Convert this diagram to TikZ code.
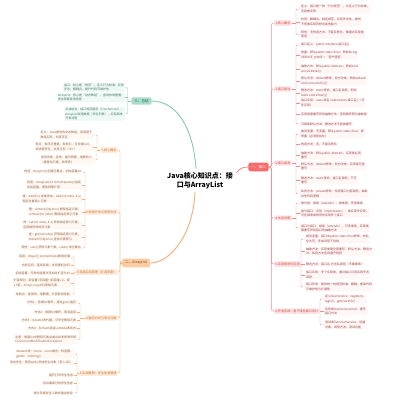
\documentclass[tikz,border=0pt]{standalone}
\usepackage{fontspec}
\setmainfont{Noto Sans CJK SC}
\definecolor{rootR}{HTML}{F36B6B}
\definecolor{rl}{HTML}{F08C8C}
\definecolor{rgf}{HTML}{FDE3E3}
\definecolor{rgt}{HTML}{D04545}
\definecolor{rct}{HTML}{9E4646}
\definecolor{rcf}{HTML}{FFF6F6}
\definecolor{rootL}{HTML}{FBCBA2}
\definecolor{rootLt}{HTML}{8B4513}
\definecolor{ll}{HTML}{F5AE74}
\definecolor{lgf}{HTML}{FDEBDC}
\definecolor{lgt}{HTML}{C8702C}
\definecolor{lct}{HTML}{94664A}
\definecolor{lcf}{HTML}{FFF8F2}
\definecolor{rootT}{HTML}{A9DCCA}
\definecolor{rootTt}{HTML}{2E6B57}
\definecolor{tl}{HTML}{86CBB4}
\definecolor{tcf}{HTML}{EEF8F4}
\definecolor{tct}{HTML}{4A7A6A}
\newcommand\myfc{\fontsize{3}{4.3}\selectfont}
\newcommand\myfg{\fontsize{3.1}{4}\selectfont}
\newcommand\myfr{\fontsize{3.6}{4.5}\selectfont}
\newcommand\myfm{\fontsize{7}{9.2}\selectfont\bfseries}
\tikzset{
  rc/.style={anchor=west, align=left, font=\myfc, text=rct, fill=rcf, inner sep=0.8pt, rounded corners=0.6pt},
  lc/.style={anchor=east, align=left, font=\myfc, text=lct, fill=lcf, inner sep=0.8pt, rounded corners=0.6pt},
  tc/.style={anchor=east, align=left, font=\myfc, text=tct, fill=tcf, inner sep=0.8pt, rounded corners=0.6pt},
  rg/.style={anchor=west, font=\myfg, text=rgt, fill=rgf, inner xsep=1.2pt, inner ysep=1.3pt, rounded corners=1pt},
  lg/.style={anchor=east, font=\myfg, text=lgt, fill=lgf, inner xsep=1.2pt, inner ysep=1.3pt, rounded corners=1pt},
  rootbox/.style={font=\myfr, inner xsep=3pt, inner ysep=2.6pt, rounded corners=1.5pt},
  rline/.style={draw=rl, line width=0.45pt},
  lline/.style={draw=ll, line width=0.45pt},
  tline/.style={draw=tl, line width=0.45pt},
}
\begin{document}
\begin{tikzpicture}[x=1pt,y=-1pt]
\useasboundingbox[fill=white] (0,0) rectangle (400,400);

% center
\node[font=\myfm, align=center] (C) at (200,180.5) {Java核心知识点：接\\口与ArrayList};

% roots
\node[rootbox, fill=rootR, text=white] (R) at (258.5,167) {一、接口};
\node[rootbox, fill=rootL, text=rootLt, anchor=west] (L) at (122,263) {二、ArrayList};
\node[rootbox, fill=rootT, text=rootTt, inner ysep=2pt] (T) at (141.5,101) {三、总结};

\draw[draw=rl, line width=0.9pt] ([yshift=8pt]C.east) .. controls (240,169) and (242,167) .. (R.west);
\draw[draw=ll, line width=0.9pt] ([xshift=-5pt]C.south) .. controls (193,235) and (170,263) .. (L.east);
\draw[draw=tl, line width=0.9pt] ([xshift=-4pt]C.north) .. controls (193,125) and (175,101) .. (T.east);

% ===== right groups =====
\node[rg] (r1) at (274,23) {1.核心概念};
\node[rg] (r2) at (274,89) {2.接口语法};
\node[rg] (r3) at (274,163) {3.接口成员};
\node[rg] (r4) at (274,218) {4.关系说明};
\node[rg] (r5) at (274,264) {5.实现规则与应用};
\node[rg] (r6) at (274,311) {6.开发实践：用户服务接口设计};
\foreach \g in {r1,r2,r3,r4,r5,r6}
  \draw[rline, rounded corners=2pt] (R.east) -- ++(2.5,0) |- (\g.west);

\node[rc] (r1a) at (300,9) {定义：接口是一种“行为规范”，仅定义行为标准，\\无具体实现};
\node[rc] (r1b) at (300,22) {作用：解耦合、制定规范、实现多态性，提供\\不同类实现同样功能的能力};
\node[rc] (r1c) at (300,34.5) {特性：无构造方法，不能实例化，需通过实现类\\使用};

\node[rc] (r2a) at (300,45) {接口定义：public interface 接口名\{\}};
\node[rc] (r2b) at (300,55) {常量：默认public static final，例如String\\SERVICE\_NAME = “用户服务”};
\node[rc] (r2c) at (300,69) {抽象方法：默认public abstract，例如void\\serviceDetail();};
\node[rc] (r2d) at (300,81) {默认方法：default修饰，有方法体，例如default\\void serviceInfo()\{\}};
\node[rc] (r2e) at (300,93) {静态方法：static修饰，接口名调用，例如\\static void show()\{\}};
\node[rc] (r2f) at (300,103) {接口实现：class 类名 implements 接口名\{\}（可\\多实现）};
\node[rc] (r2g) at (300,114) {实现类需重写所有抽象方法，否则需声明为抽象类};
\node[rc] (r2h) at (300,124) {可继承默认方法，静态方法不能被重写};

\node[rc] (r3a) at (300,134) {成员变量：无变量，默认public static final，即\\常量（必须初始化）};
\node[rc] (r3b) at (300,144) {构造方法：无，不能实例化};
\node[rc] (r3c) at (300,155) {抽象方法：默认public abstract，实现类必须\\重写};
\node[rc] (r3d) at (300,166) {默认方法：default修饰，有方法体，实现类可选\\重写};
\node[rc] (r3e) at (300,180) {静态方法：static修饰，接口名调用，不可\\重写};
\node[rc] (r3f) at (300,194) {私有方法：private修饰，仅限接口内部调用，抽取\\共性代码逻辑};

\node[rc] (r4a) at (300,203) {类与类：继承（extends），单继承，多层继承};
\node[rc] (r4b) at (300,213) {类与接口：实现（implements），单实现多实现，\\可在继承类的同时实现多个接口};
\node[rc] (r4c) at (300,228) {接口与接口：继承（extends），可多继承，实现类\\需重写所有接口的抽象方法};

\node[rc] (r5a) at (305,239) {成员变量：接口中public static final修饰，命名\\全大写，多单词用下划线};
\node[rc] (r5b) at (305,251) {抽象方法：实现类需全部重写，默认方法、静态方\\法、私有方法各自遵守规则};
\node[rc] (r5c) at (305,264) {静态方法：接口名.方法名调用（不被继承）};
\node[rc] (r5d) at (305,275) {接口实现：多个实现类，通过接口引用实现多态\\调用};
\node[rc] (r5e) at (305,287) {接口作用：提供统一的规范标准，解耦，提高代码\\可维护性与扩展性};

\node[rc] (r6a) at (324,299) {定义UserService：register()、\\login()、getUserInfo()};
\node[rc] (r6b) at (324,311) {实现类UserServiceImpl：重写\\接口方法};
\node[rc] (r6c) at (324,325) {测试类TestUserService：创建\\对象，调用方法，测试功能};

\coordinate (rb1) at (296,0);
\coordinate (rb2) at (296,0);
\coordinate (rb3) at (296,0);
\coordinate (rb4) at (296,0);
\coordinate (rb5) at (301,0);
\coordinate (rb6) at (320,0);

\draw[rline] (r1.east) -- (r1.east -| rb1);
\draw[rline, rounded corners=1pt] (r1a.west) -| (rb1 |- r1c.west) -- (r1c.west);
\draw[rline] (r1b.west) -- (r1b.west -| rb1);

\draw[rline] (r2.east) -- (r2.east -| rb2);
\draw[rline, rounded corners=1pt] (r2a.west) -| (rb2 |- r2h.west) -- (r2h.west);
\foreach \n in {r2b,r2c,r2d,r2e,r2f,r2g} \draw[rline] (\n.west) -- (\n.west -| rb2);

\draw[rline] (r3.east) -- (r3.east -| rb3);
\draw[rline, rounded corners=1pt] (r3a.west) -| (rb3 |- r3f.west) -- (r3f.west);
\foreach \n in {r3b,r3c,r3d,r3e} \draw[rline] (\n.west) -- (\n.west -| rb3);

\draw[rline] (r4.east) -- (r4.east -| rb4);
\draw[rline, rounded corners=1pt] (r4a.west) -| (rb4 |- r4c.west) -- (r4c.west);
\draw[rline] (r4b.west) -- (r4b.west -| rb4);

\draw[rline] (r5.east) -- (r5.east -| rb5);
\draw[rline, rounded corners=1pt] (r5a.west) -| (rb5 |- r5e.west) -- (r5e.west);
\foreach \n in {r5b,r5c,r5d} \draw[rline] (\n.west) -- (\n.west -| rb5);

\draw[rline] (r6.east) -- (r6.east -| rb6);
\draw[rline, rounded corners=1pt] (r6a.west) -| (rb6 |- r6c.west) -- (r6c.west);
\draw[rline] (r6b.west) -- (r6b.west -| rb6);

% ===== left groups =====
\node[lg] (l1) at (118,150) {1.核心概念};
\node[lg] (l2) at (118,212) {2.构造方法与常用方法};
\node[lg] (l3) at (118,272) {3.底层实现原理（扩容机制）};
\node[lg] (l4) at (118,318) {4.遍历方式与常见问题};
\node[lg] (l5) at (118,373) {5.实战案例：学生信息管理};
\foreach \g in {l1,l2,l3,l4,l5}
  \draw[lline, rounded corners=2pt] (L.west) -- ++(-2,0) |- (\g.east);

\node[lc] (l1a) at (93,135) {定义：Java提供的动态数组，底层基于\\数组实现，长度可变};
\node[lc] (l1b) at (93,147) {特点：有序可重复、有索引、可存储null，\\非线程安全，支持泛型（<E>）};
\node[lc] (l1c) at (93,160) {适用场景：查询、遍历频繁，增删较少\\（需移动元素，效率低）};

\node[lc] (l2a) at (82,172) {构造：ArrayList()创建空集合，初始容量10};
\node[lc] (l2b) at (82,185) {构造：ArrayList(int initialCapacity)指定\\初始容量，避免频繁扩容};
\node[lc] (l2c) at (82,199) {增：add(E e) 末尾添加，add(int index, E e)\\指定位置插入元素};
\node[lc] (l2d) at (82,212) {删：remove(Object o) 删除指定元素；\\remove(int index) 删除指定索引元素};
\node[lc] (l2e) at (82,225) {改：set(int index, E e) 修改指定索引元素，\\返回被修改的旧元素};
\node[lc] (l2f) at (82,237) {查：get(int index) 获取指定索引元素，\\indexOf(Object o) 查找元素索引};
\node[lc] (l2g) at (82,248) {其他：size() 获取元素个数，clear() 清空集合};

\node[lc] (l3a) at (71,257) {底层：Object[] elementData数组存储};
\node[lc] (l3b) at (71,265) {内存空间：连续存储，支持随机访问};
\node[lc] (l3c) at (71,273) {初始容量：无参构造首次添加时扩容为10};
\node[lc] (l3d) at (71,283) {扩容规则：新容量=旧容量+(旧容量>>1)，即\\1.5倍，Arrays.copyOf()复制元素};
\node[lc] (l3e) at (71,294) {优缺点：查询快，增删慢，扩容影响性能};

\node[lc] (l4a) at (77,303) {方式1：普通for循环，通过get(i)遍历};
\node[lc] (l4b) at (77,312) {方式2：增强for循环，简洁易读};
\node[lc] (l4c) at (77,320) {方式3：Iterator迭代器，可安全删除元素};
\node[lc] (l4d) at (77,328) {方式4：forEach结合Lambda表达式};
\node[lc] (l4e) at (77,339.5) {注意：增强for中删除元素会抛出并发修改异常\\ConcurrentModificationException};

\node[lc] (l5a) at (74,354) {Student类：name、score属性，构造器、\\getter、toString()};
\node[lc] (l5b) at (74,363) {添加学生：使用add()添加学生对象（至少3名）};
\node[lc] (l5c) at (74,375) {遍历打印学生信息};
\node[lc] (l5d) at (74,383) {找出最高分的学生信息};
\node[lc] (l5e) at (74,393) {统计及格学生人数并输出信息};

\coordinate (lb1) at (97,0);
\coordinate (lb2) at (85,0);
\coordinate (lb3) at (74,0);
\coordinate (lb4) at (80,0);
\coordinate (lb5) at (77,0);

\draw[lline] (l1.west) -- (l1.west -| lb1);
\draw[lline, rounded corners=1pt] (l1a.east) -| (lb1 |- l1c.east) -- (l1c.east);
\draw[lline] (l1b.east) -- (l1b.east -| lb1);

\draw[lline] (l2.west) -- (l2.west -| lb2);
\draw[lline, rounded corners=1pt] (l2a.east) -| (lb2 |- l2g.east) -- (l2g.east);
\foreach \n in {l2b,l2c,l2d,l2e,l2f} \draw[lline] (\n.east) -- (\n.east -| lb2);

\draw[lline] (l3.west) -- (l3.west -| lb3);
\draw[lline, rounded corners=1pt] (l3a.east) -| (lb3 |- l3e.east) -- (l3e.east);
\foreach \n in {l3b,l3c,l3d} \draw[lline] (\n.east) -- (\n.east -| lb3);

\draw[lline] (l4.west) -- (l4.west -| lb4);
\draw[lline, rounded corners=1pt] (l4a.east) -| (lb4 |- l4e.east) -- (l4e.east);
\foreach \n in {l4b,l4c,l4d} \draw[lline] (\n.east) -- (\n.east -| lb4);

\draw[lline] (l5.west) -- (l5.west -| lb5);
\draw[lline, rounded corners=1pt] (l5a.east) -| (lb5 |- l5e.east) -- (l5e.east);
\foreach \n in {l5b,l5c,l5d} \draw[lline] (\n.east) -- (\n.east -| lb5);

% ===== top group =====
\node[tc] (t1) at (125,87.5) {接口：核心是“规范”，定义行为标准，实现\\多态，解耦合，提升代码可维护性};
\node[tc] (t2) at (125,97.5) {ArrayList：核心是“动态数组”，查询快增删慢，\\适合频繁查询场景};
\node[tc] (t3) at (125,114) {实战结合：接口规范服务（UserService），\\ArrayList存储数据（学生列表），实现高效\\开发流程};
\coordinate (tb) at (127.5,0);
\draw[tline] (T.west) -- (T.west -| tb);
\draw[tline, rounded corners=1pt] (t1.east) -| (tb |- t3.east) -- (t3.east);
\draw[tline] (t2.east) -- (t2.east -| tb);
\end{tikzpicture}
\end{document}
